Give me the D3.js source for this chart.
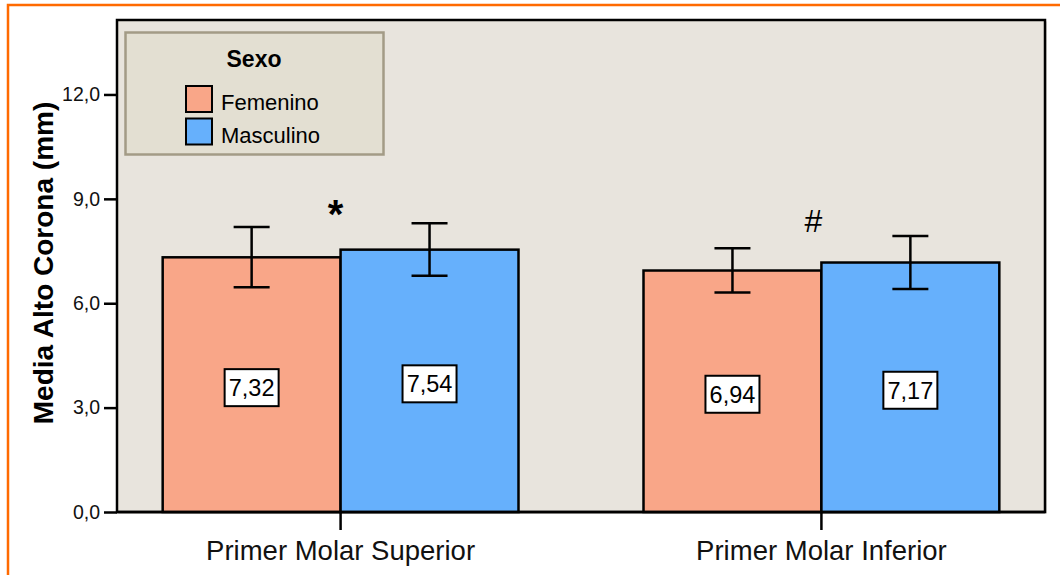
<!DOCTYPE html>
<html>

<head>
    <meta charset="utf-8">
    <style>
        body {
            margin: 0;
            background: #fff;
        }

        svg {
            display: block;
            font-family: 'Liberation Sans', Arial, Helvetica, sans-serif;
        }

        .y .tick text {
            font-size: 19.5px;
            fill: #111;
        }

        .x .tick text {
            font-size: 27.5px;
            fill: #111;
        }

        .tick line {
            stroke: #000;
            stroke-width: 2.5px;
        }

        .domain {
            display: none;
        }

        .ylab {
            font-size: 28px;
            font-weight: bold;
        }

        .vlab {
            font-size: 23.5px;
        }

        .leg-title {
            font-size: 23px;
            font-weight: bold;
        }

        .leg-text {
            font-size: 22px;
        }
    </style>
</head>

<body>
    <svg width="1060" height="575"></svg>
</body>

<script src="https://d3js.org/d3.v7.min.js"></script>

<script>
    // data
    let categories = ["Primer Molar Superior", "Primer Molar Inferior"];
    let sexes = ["Femenino", "Masculino"];
    let meanFemenino = [7.32, 6.94];
    let meanMasculino = [7.54, 7.17];
    let lowFemenino = [6.46, 6.31];
    let lowMasculino = [6.79, 6.41];
    let highFemenino = [8.19, 7.58];
    let highMasculino = [8.30, 7.93];
    let markers = ["*", "#"];
    let yTicks = [0, 3, 6, 9, 12];

    let colors = ["#f9a688", "#66b0fc"];

    let svg = d3.select("svg");

    let margin = { top: 20, right: 1045, bottom: 512, left: 117 };

    // flatten into rows, one per bar
    let rows = [];
    categories.forEach((c, i) => {
        rows.push({ cat: c, sex: sexes[0], mean: meanFemenino[i], lo: lowFemenino[i], hi: highFemenino[i] });
        rows.push({ cat: c, sex: sexes[1], mean: meanMasculino[i], lo: lowMasculino[i], hi: highMasculino[i] });
    });

    let x = d3.scaleBand()
        .domain(categories)
        .range([margin.left, margin.right])
        .paddingInner(0.26)
        .paddingOuter(0.095);

    let xSex = d3.scaleBand()
        .domain(sexes)
        .range([0, x.bandwidth()]);

    let y = d3.scaleLinear()
        .domain([0, 14.14])
        .range([margin.bottom, margin.top]);

    let color = d3.scaleOrdinal()
        .domain(sexes)
        .range(colors);

    // orange outer frame (runs off the right and bottom)
    svg.append("rect")
        .attr("x", 8)
        .attr("y", 5)
        .attr("width", 1100)
        .attr("height", 620)
        .attr("fill", "none")
        .attr("stroke", "#ff6a00")
        .attr("stroke-width", 2.5);

    // plot background with a faint shadow
    svg.append("rect")
        .attr("x", margin.left + 1.5)
        .attr("y", margin.top + 1.5)
        .attr("width", margin.right - margin.left)
        .attr("height", margin.bottom - margin.top)
        .attr("fill", "#bdb9b2");

    svg.append("rect")
        .attr("x", margin.left)
        .attr("y", margin.top)
        .attr("width", margin.right - margin.left)
        .attr("height", margin.bottom - margin.top)
        .attr("fill", "#e8e4dd")
        .attr("stroke", "#000")
        .attr("stroke-width", 2.5);

    // bars
    let bars = svg.append("g").attr("class", "bars");

    bars.selectAll("rect")
        .data(rows)
        .join("rect")
        .attr("x", d => x(d.cat) + xSex(d.sex))
        .attr("y", d => y(d.mean))
        .attr("width", xSex.bandwidth())
        .attr("height", d => y(0) - y(d.mean))
        .attr("fill", d => color(d.sex))
        .attr("stroke", "#000")
        .attr("stroke-width", 2.5);

    // error bars
    let errs = svg.append("g").attr("class", "errs")
        .selectAll("g")
        .data(rows)
        .join("g")
        .attr("transform", d => `translate(${x(d.cat) + xSex(d.sex) + xSex.bandwidth() / 2},0)`)
        .attr("stroke", "#000")
        .attr("stroke-width", 2.5);

    errs.append("line")
        .attr("x1", 0).attr("x2", 0)
        .attr("y1", d => y(d.lo))
        .attr("y2", d => y(d.hi));

    errs.append("line")
        .attr("x1", -18).attr("x2", 18)
        .attr("y1", d => y(d.lo))
        .attr("y2", d => y(d.lo));

    errs.append("line")
        .attr("x1", -18).attr("x2", 18)
        .attr("y1", d => y(d.hi))
        .attr("y2", d => y(d.hi));

    // value labels in white boxes, half way up the bar
    let vlabs = svg.append("g").attr("class", "vlabs")
        .selectAll("g")
        .data(rows)
        .join("g")
        .attr("transform", d => `translate(${x(d.cat) + xSex(d.sex) + xSex.bandwidth() / 2},${y(d.mean / 2) + 3})`);

    vlabs.append("rect")
        .attr("x", -27)
        .attr("y", -18.5)
        .attr("width", 54)
        .attr("height", 37)
        .attr("fill", "#fff")
        .attr("stroke", "#000")
        .attr("stroke-width", 2);

    vlabs.append("text")
        .attr("class", "vlab")
        .attr("text-anchor", "middle")
        .attr("y", 8.5)
        .text(d => d3.format(".2f")(d.mean).replace(".", ","));

    // significance markers
    svg.append("g")
        .selectAll("text")
        .data(categories)
        .join("text")
        .attr("x", (d, i) => x(d) + x.bandwidth() / 2 + (i == 0 ? -5 : -8))
        .attr("y", (d, i) => i == 0 ? 228 : 232)
        .attr("text-anchor", "middle")
        .style("font-size", (d, i) => i == 0 ? "40px" : "32px")
        .style("font-weight", (d, i) => i == 0 ? "bold" : "normal")
        .text((d, i) => markers[i]);

    // axes
    let yAxis = svg.append("g")
        .attr("class", "y axis")
        .attr("transform", `translate(${margin.left},0)`)
        .call(d3.axisLeft(y)
            .tickValues(yTicks)
            .tickSize(13)
            .tickPadding(4)
            .tickFormat(d => d3.format(".1f")(d).replace(".", ",")));

    let xAxis = svg.append("g")
        .attr("class", "x axis")
        .attr("transform", `translate(0,${margin.bottom})`)
        .call(d3.axisBottom(x)
            .tickSize(18)
            .tickPadding(10.5));

    // redraw the baseline over the bars
    svg.append("line")
        .attr("x1", margin.left)
        .attr("x2", margin.right)
        .attr("y1", margin.bottom)
        .attr("y2", margin.bottom)
        .attr("stroke", "#000")
        .attr("stroke-width", 2.5);

    svg.append("text")
        .attr("class", "ylab")
        .attr("transform", "translate(53,263) rotate(-90)")
        .attr("text-anchor", "middle")
        .text("Media Alto Corona (mm)");

    // legend
    let legend = svg.append("g").attr("class", "legend");

    legend.append("rect")
        .attr("x", 125.5)
        .attr("y", 32.5)
        .attr("width", 258)
        .attr("height", 122)
        .attr("fill", "#e3dfd2")
        .attr("stroke", "#a39b86")
        .attr("stroke-width", 2.5);

    legend.append("text")
        .attr("class", "leg-title")
        .attr("x", 254)
        .attr("y", 67)
        .attr("text-anchor", "middle")
        .text("Sexo");

    let items = legend.selectAll(".item")
        .data(sexes)
        .join("g")
        .attr("class", "item")
        .attr("transform", (d, i) => `translate(186,${86 + i * 32.5})`);

    items.append("rect")
        .attr("width", 26)
        .attr("height", 26)
        .attr("fill", d => color(d))
        .attr("stroke", "#000")
        .attr("stroke-width", 2);

    items.append("text")
        .attr("class", "leg-text")
        .attr("x", 35)
        .attr("y", 24)
        .text(d => d);
</script>

</html>
